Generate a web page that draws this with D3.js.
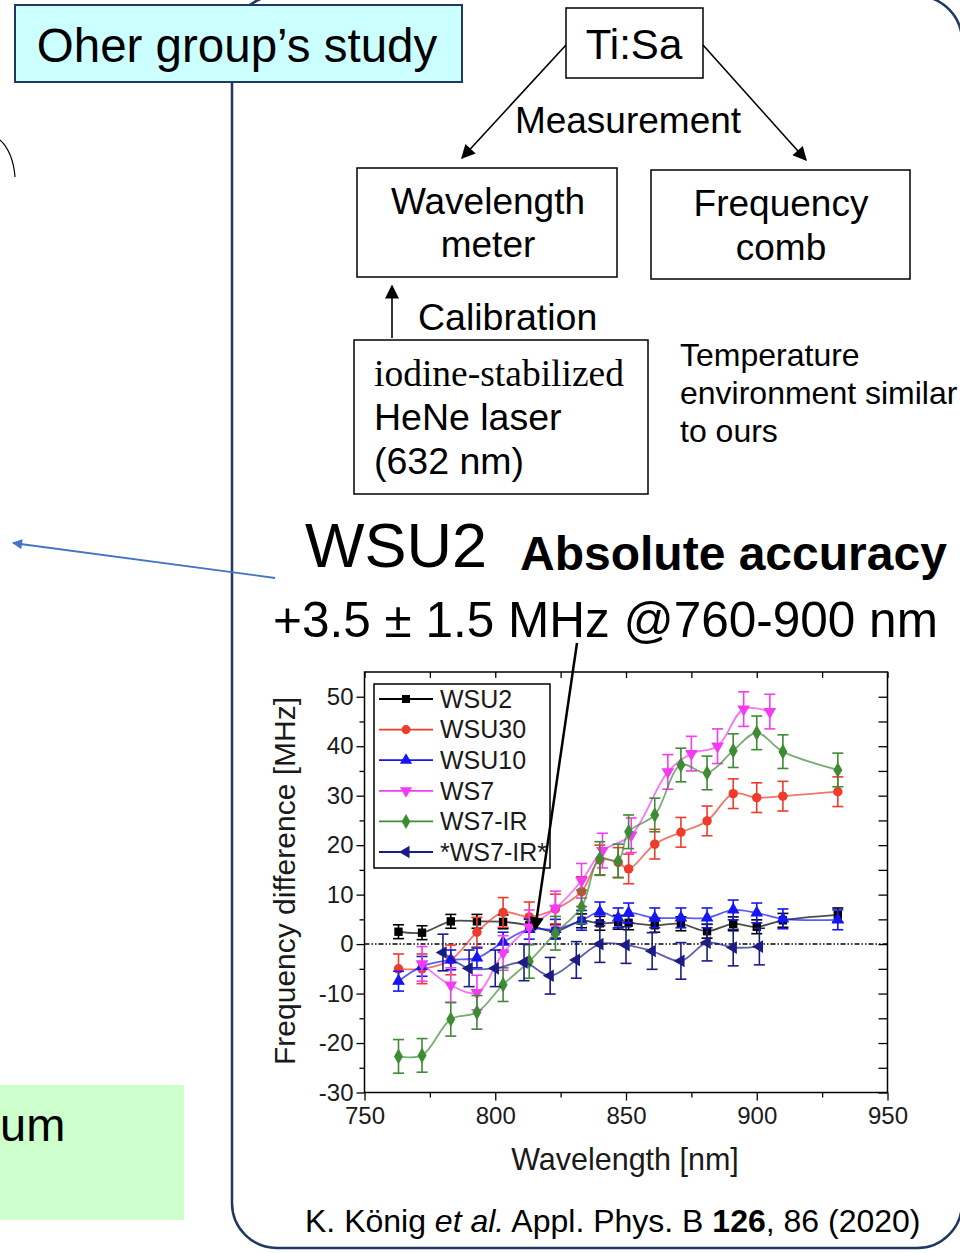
<!DOCTYPE html>
<html>
<head>
<meta charset="utf-8">
<script src="https://cdn.jsdelivr.net/npm/d3@7"></script>
<style>
  body { margin: 0; background: #fff; }
  svg { display: block; font-family: "Liberation Sans", Arial, sans-serif; }
</style>
</head>
<body>
<svg id="slide" width="960" height="1253"></svg>
<script>
// series as shown in the legend
const seriesNames = ["WSU2", "WSU30", "WSU10", "WS7", "WS7-IR", "*WS7-IR*"];

// wavelengths [nm] and frequency differences [MHz]
const wlMain = [763, 772, 783, 793, 803, 813, 823, 833, 840, 847, 851, 861, 871, 881, 891, 900, 910, 931];
const wsu2 = [2.5, 2.3, 4.6, 4.6, 4.5, 3.8, 2.6, 4.7, 4.2, 4.4, 4.3, 3.8, 4.1, 2.6, 4.1, 3.5, 4.8, 5.9];
const wsu30 = [-5.0, -5.0, -3.2, 2.4, 6.4, 5.5, 7.1, 10.6, 17.0, 16.5, 15.2, 20.2, 22.6, 24.9, 30.4, 29.6, 29.9, 30.8];
const wsu10 = [-7.5, -4.5, -3.2, -2.8, 0.4, 3.0, 3.0, 4.8, 6.5, 5.3, 6.3, 5.3, 5.3, 5.3, 6.9, 6.3, 5.1, 4.9];
const ws7Wl = [772, 783, 793, 803, 813, 823, 833, 841, 852, 866, 875, 885, 895, 905];
const ws7 = [-4.0, -8.3, -9.8, -1.8, 3.4, 7.2, 12.8, 18.9, 22.0, 34.8, 38.5, 40.0, 47.5, 47.0];
const ws7ir = [-22.7, -22.5, -15.2, -13.8, -8.2, -3.5, 2.2, 7.5, 17.3, 16.8, 22.7, 26.1, 36.2, 34.6, 39.1, 42.7, 38.9, 35.2];
const ws7irStarWl = [780, 790, 800, 811, 821, 831, 840, 850, 860, 871, 881, 891, 901];
const ws7irStar = [-1.7, -4.9, -4.9, -3.7, -6.4, -3.2, 0.0, -0.2, -1.4, -3.4, 0.3, -0.7, -0.5];
// error bar half widths [MHz]
const seriesErr = [1.4, 3.0, 2.0, 3.5, 3.4, 3.7];

const xTicks = [750, 800, 850, 900, 950];
const xMinor = [775, 825, 875, 925];
const yTicks = [-30, -20, -10, 0, 10, 20, 30, 40, 50];
const yMinor = [-25, -15, -5, 5, 15, 25, 35, 45];

const seriesColors = ["#000000", "#ee3b2b", "#1515f5", "#f23cf2", "#3f8a34", "#1c1c86"];
const seriesMarkers = ["square", "circle", "up", "down", "diamond", "left"];

const series = [
  [wlMain, wsu2], [wlMain, wsu30], [wlMain, wsu10],
  [ws7Wl, ws7], [wlMain, ws7ir], [ws7irStarWl, ws7irStar]
].map(([wl, v], i) => ({
  name: seriesNames[i],
  color: seriesColors[i],
  marker: seriesMarkers[i],
  err: seriesErr[i],
  points: wl.map((w, j) => ({ x: w, y: v[j] }))
}));

const svg = d3.select("#slide");
const defs = svg.append("defs");

function arrowHead(id, color, w, h) {
  defs.append("marker")
    .attr("id", id)
    .attr("viewBox", "0 0 10 10")
    .attr("refX", 9).attr("refY", 5)
    .attr("markerWidth", w).attr("markerHeight", h)
    .attr("markerUnits", "userSpaceOnUse")
    .attr("orient", "auto")
    .append("path")
    .attr("d", "M0,0L10,5L0,10Z")
    .attr("fill", color);
}
arrowHead("ahBlack", "#000", 17, 14);
arrowHead("ahBlue", "#4472c4", 14, 10);

// big rounded frame
svg.append("rect")
  .attr("x", 232).attr("y", -4)
  .attr("width", 730).attr("height", 1252)
  .attr("rx", 45).attr("ry", 45)
  .attr("fill", "none")
  .attr("stroke", "#1f3864")
  .attr("stroke-width", 2.5);

// left-side leftovers of the slide
svg.append("path")
  .attr("d", "M0,140 Q13,152 15,177")
  .attr("fill", "none").attr("stroke", "#000").attr("stroke-width", 1.2);

svg.append("rect")
  .attr("x", -2).attr("y", 1085).attr("width", 186).attr("height", 135)
  .attr("fill", "#ccffcc");
svg.append("text").attr("x", 0).attr("y", 1141)
  .attr("font-size", 47).text("um");

svg.append("line")
  .attr("x1", 275).attr("y1", 578).attr("x2", 13).attr("y2", 543)
  .attr("stroke", "#4472c4").attr("stroke-width", 1.8)
  .attr("marker-end", "url(#ahBlue)");

svg.append("rect")
  .attr("x", 15).attr("y", 5).attr("width", 447).attr("height", 77)
  .attr("fill", "#ccffff").attr("stroke", "#1f3864").attr("stroke-width", 2);
svg.append("text").attr("x", 237).attr("y", 62)
  .attr("text-anchor", "middle").attr("font-size", 47.5)
  .text("Oher group\u2019s study");

// measurement scheme
const boxes = [
  { x: 566, y: 8, w: 137, h: 70 },
  { x: 357, y: 168, w: 260, h: 109 },
  { x: 651, y: 170, w: 259, h: 109 },
  { x: 354, y: 340, w: 294, h: 154 }
];
svg.selectAll("rect.box").data(boxes).join("rect")
  .attr("class", "box")
  .attr("x", d => d.x).attr("y", d => d.y)
  .attr("width", d => d.w).attr("height", d => d.h)
  .attr("fill", "none").attr("stroke", "#000").attr("stroke-width", 1.5);

const arrows = [
  [566, 45, 462, 158],
  [703, 45, 806, 160],
  [392, 338, 392, 286]
];
svg.selectAll("line.arrow").data(arrows).join("line")
  .attr("class", "arrow")
  .attr("x1", d => d[0]).attr("y1", d => d[1])
  .attr("x2", d => d[2]).attr("y2", d => d[3])
  .attr("stroke", "#000").attr("stroke-width", 1.6)
  .attr("marker-end", "url(#ahBlack)");

const labels = [
  { t: "Ti:Sa", x: 634, y: 59, s: 42, a: "middle" },
  { t: "Measurement", x: 628, y: 133, s: 37, a: "middle" },
  { t: "Wavelength", x: 488, y: 214, s: 37, a: "middle" },
  { t: "meter", x: 488, y: 257, s: 37, a: "middle" },
  { t: "Frequency", x: 781, y: 216, s: 37, a: "middle" },
  { t: "comb", x: 781, y: 260, s: 37, a: "middle" },
  { t: "Calibration", x: 418, y: 330, s: 37.5, a: "start" },
  { t: "HeNe laser", x: 374, y: 430, s: 37.5, a: "start" },
  { t: "(632 nm)", x: 374, y: 474, s: 37.5, a: "start" },
  { t: "Temperature", x: 680, y: 366, s: 32, a: "start" },
  { t: "environment similar", x: 680, y: 404, s: 32, a: "start" },
  { t: "to ours", x: 680, y: 442, s: 32, a: "start" },
  { t: "WSU2", x: 305, y: 567, s: 63, a: "start" },
  { t: "+3.5 \u00b1 1.5 MHz @760-900 nm", x: 273, y: 637, s: 49.5, a: "start" }
];
svg.selectAll("text.lbl").data(labels).join("text")
  .attr("class", "lbl")
  .attr("x", d => d.x).attr("y", d => d.y)
  .attr("font-size", d => d.s)
  .attr("text-anchor", d => d.a)
  .text(d => d.t);

svg.append("text").attr("x", 374).attr("y", 386)
  .attr("font-family", "'Liberation Serif', 'Times New Roman', serif")
  .attr("font-size", 37.5).text("iodine-stabilized");

svg.append("text").attr("x", 520).attr("y", 570)
  .attr("font-size", 48).attr("font-weight", "bold")
  .text("Absolute accuracy");

const cite = svg.append("text").attr("x", 305).attr("y", 1232).attr("font-size", 32);
cite.append("tspan").text("K. K\u00f6nig ");
cite.append("tspan").attr("font-style", "italic").text("et al.");
cite.append("tspan").text(" Appl. Phys. B ");
cite.append("tspan").attr("font-weight", "bold").text("126");
cite.append("tspan").text(", 86 (2020)");

// ---- the plot ----
const plot = { left: 364.5, right: 887.5, top: 672, bottom: 1092.5 };
const x = d3.scaleLinear().domain([750, 950]).range([plot.left, plot.right]);
const y = d3.scaleLinear().domain([-30, 55]).range([plot.bottom, plot.top]);

const g = svg.append("g");

g.append("rect")
  .attr("x", plot.left).attr("y", plot.top)
  .attr("width", plot.right - plot.left).attr("height", plot.bottom - plot.top)
  .attr("fill", "#fff");

function addAxis(axis, tx, ty, withLabels) {
  const a = g.append("g")
    .attr("transform", `translate(${tx},${ty})`)
    .call(axis);
  a.select(".domain").remove();
  a.selectAll("line").attr("stroke", "#000").attr("stroke-width", 1.3);
  if (withLabels) {
    a.selectAll("text").attr("font-size", 24).attr("fill", "#1a1a1a")
      .attr("font-family", "'Liberation Sans', Arial, sans-serif");
  } else {
    a.selectAll("text").remove();
  }
  return a;
}

const plain = d => String(d);
addAxis(d3.axisLeft(y).tickValues(yTicks).tickSize(8).tickPadding(3).tickFormat(plain), plot.left, 0, true);
addAxis(d3.axisLeft(y).tickValues(yMinor).tickSize(5), plot.left, 0, false);
addAxis(d3.axisRight(y).tickValues(yTicks.concat(yMinor)).tickSize(-9), plot.right, 0, false);
addAxis(d3.axisBottom(x).tickValues(xTicks).tickSize(8).tickPadding(6).tickFormat(plain), 0, plot.bottom, true);
addAxis(d3.axisBottom(x).tickValues(xMinor).tickSize(5), 0, plot.bottom, false);
addAxis(d3.axisTop(x).tickValues(xTicks.concat(xMinor)).tickSize(-6), 0, plot.top, false);

// zero line
g.append("line")
  .attr("x1", x(750)).attr("x2", x(950))
  .attr("y1", y(0)).attr("y2", y(0))
  .attr("stroke", "#000").attr("stroke-width", 1.5)
  .attr("stroke-dasharray", "5,2,1.5,2,1.5,2");

const line = d3.line()
  .x(d => x(d.x))
  .y(d => y(d.y))
  .curve(d3.curveCatmullRom.alpha(0.5));

function markerPath(type, size) {
  switch (type) {
    case "square": return d3.symbol(d3.symbolSquare, size)();
    case "circle": return d3.symbol(d3.symbolCircle, size)();
    case "diamond": return d3.symbol(d3.symbolDiamond, size)();
    default: return d3.symbol(d3.symbolTriangle, size)();
  }
}
const markerRotate = { up: 0, down: 180, left: -90 };

series.forEach(s => {
  const sg = g.append("g");

  sg.append("path")
    .datum(s.points)
    .attr("d", line)
    .attr("fill", "none")
    .attr("stroke", s.color)
    .attr("stroke-opacity", 0.7)
    .attr("stroke-width", 1.8);

  const eb = sg.selectAll("g.err").data(s.points).join("g").attr("class", "err")
    .attr("stroke", s.color).attr("stroke-width", 1.6);
  eb.append("line")
    .attr("x1", d => x(d.x)).attr("x2", d => x(d.x))
    .attr("y1", d => y(d.y - s.err)).attr("y2", d => y(d.y + s.err));
  eb.append("line")
    .attr("x1", d => x(d.x) - 5.5).attr("x2", d => x(d.x) + 5.5)
    .attr("y1", d => y(d.y + s.err)).attr("y2", d => y(d.y + s.err));
  eb.append("line")
    .attr("x1", d => x(d.x) - 5.5).attr("x2", d => x(d.x) + 5.5)
    .attr("y1", d => y(d.y - s.err)).attr("y2", d => y(d.y - s.err));

  sg.selectAll("path.pt").data(s.points).join("path").attr("class", "pt")
    .attr("d", markerPath(s.marker, 70))
    .attr("transform", d => `translate(${x(d.x)},${y(d.y)}) rotate(${markerRotate[s.marker] || 0})`)
    .attr("fill", s.color);
});

// frame
g.append("rect")
  .attr("x", plot.left).attr("y", plot.top)
  .attr("width", plot.right - plot.left).attr("height", plot.bottom - plot.top)
  .attr("fill", "none").attr("stroke", "#000").attr("stroke-width", 1.5);

// legend
const legend = g.append("g");
legend.append("rect")
  .attr("x", 374).attr("y", 684).attr("width", 176).attr("height", 184)
  .attr("fill", "#fff").attr("stroke", "#000").attr("stroke-width", 1.5);
const rows = legend.selectAll("g.row").data(series).join("g").attr("class", "row")
  .attr("transform", (d, i) => `translate(0,${699 + i * 30.6})`);
rows.append("line")
  .attr("x1", 379).attr("x2", 433)
  .attr("stroke", d => d.color).attr("stroke-width", 1.8);
rows.append("path")
  .attr("d", d => markerPath(d.marker, 65))
  .attr("transform", d => `translate(406,0) rotate(${markerRotate[d.marker] || 0})`)
  .attr("fill", d => d.color);
rows.append("text")
  .attr("x", 440).attr("dy", "0.35em")
  .attr("font-size", 25).attr("fill", "#1a1a1a")
  .text(d => d.name);

// axis titles
g.append("text")
  .attr("transform", "translate(284,881) rotate(-90)")
  .attr("text-anchor", "middle").attr("dy", "0.35em")
  .attr("font-size", 30).attr("fill", "#1a1a1a")
  .text("Frequency difference [MHz]");
g.append("text")
  .attr("x", 625).attr("y", 1170)
  .attr("text-anchor", "middle")
  .attr("font-size", 30.5).attr("fill", "#1a1a1a")
  .text("Wavelength [nm]");

// pointer to WSU2 data
svg.append("line")
  .attr("x1", 577).attr("y1", 643).attr("x2", 535).attr("y2", 930)
  .attr("stroke", "#000").attr("stroke-width", 2.5)
  .attr("marker-end", "url(#ahBlack)");
</script>
</body>
</html>
